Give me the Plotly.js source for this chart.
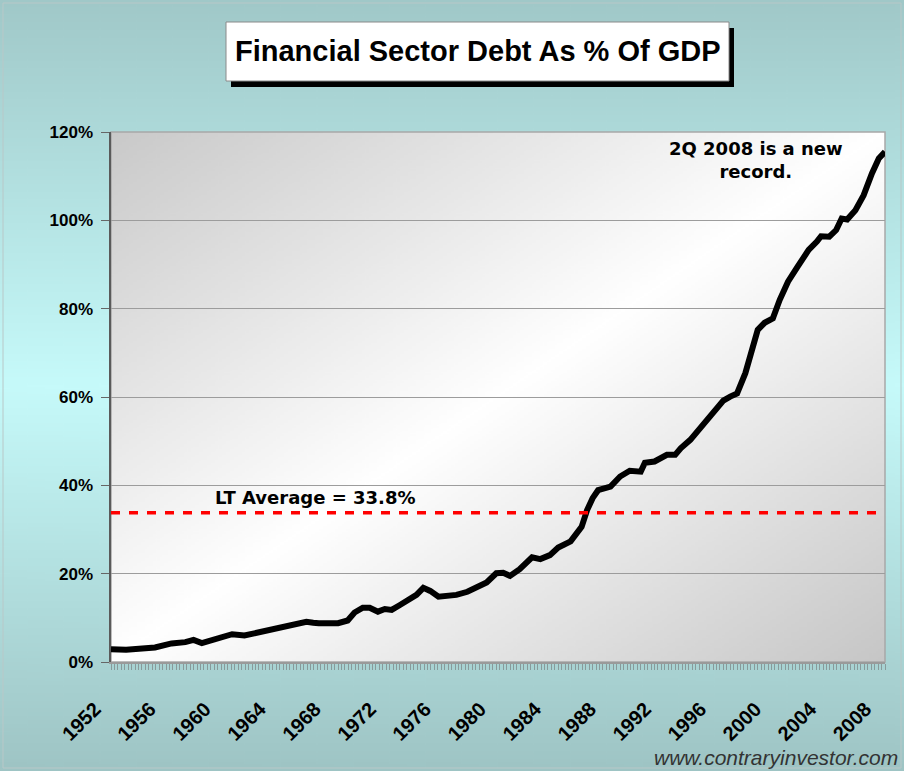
<!DOCTYPE html>
<html>
<head>
<meta charset="utf-8">
<script src="https://cdn.plot.ly/plotly-3.0.1.min.js"></script>
<style>html,body{margin:0;padding:0;background:#a6cece;}#chart{width:904px;height:771px;}</style>
</head>
<body>
<div id="chart"></div>
<script>
// ---- data ----
const years = [1952.0,1953.1,1955.2,1956.4,1957.4,1958.0,1958.6,1959.8,1960.8,1961.7,1962.7,1963.7,1964.6,1965.6,1966.2,1966.7,1967.1,1968.5,1969.2,1969.7,1970.3,1970.8,1971.4,1971.9,1972.4,1973.0,1973.6,1974.2,1974.7,1975.2,1975.8,1976.4,1977.1,1977.9,1978.6,1979.3,1980.0,1980.5,1981.0,1981.7,1982.6,1983.2,1983.9,1984.5,1985.4,1986.2,1986.6,1987.0,1987.4,1988.3,1989.0,1989.7,1990.5,1990.8,1991.5,1992.4,1993.0,1993.4,1994.1,1994.8,1995.5,1996.5,1997.0,1997.5,1998.1,1998.6,1999.0,1999.5,2000.1,2000.6,2001.2,2001.9,2002.7,2003.3,2003.6,2004.2,2004.7,2005.1,2005.5,2006.1,2006.7,2007.3,2007.8,2008.25];
const debtPct = [2.9,2.8,3.3,4.2,4.5,5.0,4.3,5.5,6.3,6.0,6.7,7.2,8.0,8.4,9.1,8.9,8.8,8.8,9.4,11.2,12.3,12.3,11.4,12.0,11.8,12.9,14.0,15.2,16.8,16.1,14.8,14.9,15.2,15.9,16.8,18.0,20.1,20.2,19.5,21.0,23.7,23.3,24.2,25.9,27.3,30.6,34.4,37.1,38.9,39.7,42.0,43.3,43.1,45.1,45.4,46.9,46.9,48.4,50.3,52.9,55.5,59.2,60.1,60.8,65.4,70.6,75.2,76.8,77.8,82.0,86.1,89.5,93.3,95.2,96.4,96.3,97.8,100.4,100.2,102.3,105.7,110.6,114.0,115.5];
const ltAverage = 33.8;
const xFirstTick = 1952, xTickStep = 4;
const yTickVals = [0,20,40,60,80,100,120];
const yTickText = ['0%','20%','40%','60%','80%','100%','120%'];
const titleText = 'Financial Sector Debt As % Of GDP';
const noteText = '2Q 2008 is a new<br>record.';
const avgText = 'LT Average = 33.8%';
const sourceText = 'www.contraryinvestor.com';

// ---- layout geometry ----
const W = 904, H = 771, ML = 111, MR = 19, MT = 132, MB = 109;
const PW = W - ML - MR, PH = H - MT - MB;
const px2x = p => (p - ML) / PW;
const py2y = p => (H - MB - p) / PH;

function gradImage(w, h, x0, y0, x1, y1, stops) {
  const c = document.createElement('canvas');
  c.width = w; c.height = h;
  const g = c.getContext('2d');
  const lg = g.createLinearGradient(x0, y0, x1, y1);
  stops.forEach(s => lg.addColorStop(s[0], s[1]));
  g.fillStyle = lg; g.fillRect(0, 0, w, h);
  return c.toDataURL('image/png');
}
const paperImg = gradImage(50, 400, 0, 0, 0, 400, [[0,'#a0c8c8'],[0.5,'#c6fafa'],[1,'#9ec4c4']]);
const plotImg = gradImage(400, 400, 0, 0, 400, 400, [[0,'#c9c9c9'],[0.5,'#ffffff'],[1,'#c6c6c6']]);

const trace = {
  x: years, y: debtPct, type: 'scatter', mode: 'lines',
  line: {color: '#000000', width: 6},
  hoverinfo: 'skip', showlegend: false
};

const yTickFont = {family: 'Liberation Sans, Arial, sans-serif', size: 17, weight: 'bold', color: '#000'};
const xTickFont = {family: 'Liberation Sans, Arial, sans-serif', size: 20, weight: 'bold', color: '#000'};
const annFont = {family: 'DejaVu Sans, Verdana, sans-serif', size: 18, weight: 'bold', color: '#000'};

const layout = {
  width: W, height: H,
  margin: {l: ML, r: MR, t: MT, b: MB, pad: 0},
  paper_bgcolor: '#a6cece',
  plot_bgcolor: 'rgba(0,0,0,0)',
  showlegend: false,
  images: [
    {source: paperImg, xref: 'paper', yref: 'paper', x: px2x(0), y: py2y(0), sizex: W / PW, sizey: H / PH,
     xanchor: 'left', yanchor: 'top', sizing: 'stretch', layer: 'below'},
    {source: plotImg, xref: 'paper', yref: 'paper', x: 0, y: 1, sizex: 1, sizey: 1,
     xanchor: 'left', yanchor: 'top', sizing: 'stretch', layer: 'below'}
  ],
  xaxis: {
    range: [1952, 2008.25], tickmode: 'linear', tick0: xFirstTick, dtick: xTickStep, tickformat: 'd',
    tickangle: -45, tickfont: xTickFont, ticks: 'outside', ticklen: 6, tickcolor: '#889a9a', tickwidth: 1,
    minor: {dtick: 0.25, tick0: 1952, ticks: 'outside', ticklen: 6, tickcolor: '#889a9a', tickwidth: 1, showgrid: false},
    showgrid: false, zeroline: false, showline: true, linecolor: '#9a9a9a', linewidth: 1.5,
    ticklabelstandoff: 20, ticklabelshift: -16, fixedrange: true
  },
  yaxis: {
    range: [0, 120], tickmode: 'array', tickvals: yTickVals, ticktext: yTickText,
    tickfont: yTickFont, ticks: 'outside', ticklen: 8, tickcolor: '#666', tickwidth: 1,
    showgrid: true, gridcolor: '#9c9c9c', gridwidth: 1, zeroline: false,
    showline: true, linecolor: '#5a5a5a', linewidth: 2.5, ticklabelstandoff: 4, fixedrange: true
  },
  shapes: [
    {type: 'rect', xref: 'paper', yref: 'paper', x0: px2x(3), x1: px2x(901), y0: py2y(3), y1: py2y(768),
     line: {color: '#b8c8c8', width: 1}, fillcolor: 'rgba(0,0,0,0)', layer: 'below'},
    {type: 'rect', xref: 'paper', yref: 'paper', x0: 0, x1: 1, y0: 0, y1: 1,
     line: {color: '#a8a8a8', width: 1.5}, fillcolor: 'rgba(0,0,0,0)', layer: 'below'},
    {type: 'rect', xref: 'paper', yref: 'paper', x0: px2x(231), x1: px2x(734), y0: py2y(28), y1: py2y(87),
     line: {width: 0}, fillcolor: '#000000', layer: 'above'},
    {type: 'rect', xref: 'paper', yref: 'paper', x0: px2x(226), x1: px2x(729), y0: py2y(22), y1: py2y(81),
     line: {color: '#8a8a8a', width: 1}, fillcolor: '#ffffff', layer: 'above'},
    {type: 'line', xref: 'paper', yref: 'y', x0: 0, x1: 1, y0: ltAverage, y1: ltAverage,
     line: {color: '#ff0000', width: 3.5, dash: '9px,9px'}, layer: 'above'}
  ],
  annotations: [
    {text: titleText, xref: 'paper', yref: 'paper', x: px2x(477.5), y: py2y(51.5), xanchor: 'center', yanchor: 'middle',
     showarrow: false, font: {family: 'Liberation Sans, Arial, sans-serif', size: 29, weight: 'bold', color: '#000'}},
    {text: noteText, xref: 'paper', yref: 'paper', x: px2x(756), y: py2y(160), xanchor: 'center', yanchor: 'middle',
     align: 'center', showarrow: false, font: annFont},
    {text: avgText, xref: 'paper', yref: 'paper', x: px2x(315), y: py2y(497), xanchor: 'center', yanchor: 'middle',
     showarrow: false, font: annFont},
    {text: sourceText, xref: 'paper', yref: 'paper', x: px2x(900), y: py2y(757), xanchor: 'right', yanchor: 'middle',
     showarrow: false, font: {family: 'Liberation Sans, Arial, sans-serif', size: 21, style: 'italic', color: '#333'}}
  ]
};

Plotly.newPlot('chart', [trace], layout, {displayModeBar: false, staticPlot: true});
</script>
</body>
</html>
